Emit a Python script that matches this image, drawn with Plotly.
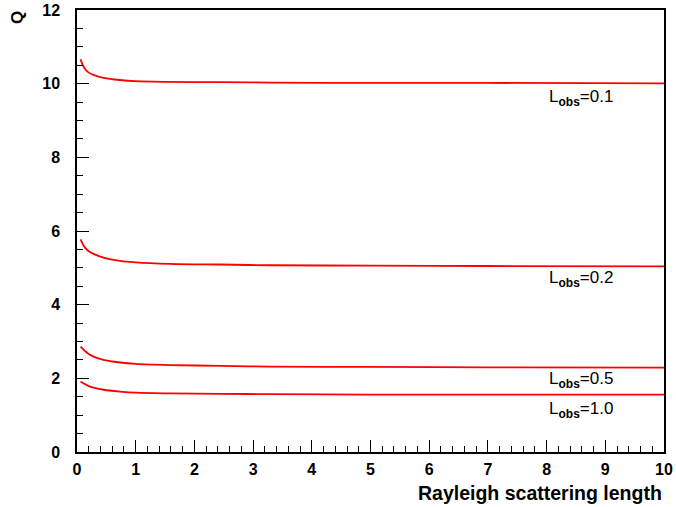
import plotly.graph_objects as go

x_vals = [0.06, 0.10, 0.14, 0.20, 0.28, 0.45, 0.73, 1.0, 1.58, 2.44, 3.29, 5.0, 7.0, 10.0]
q_l01 = [10.66, 10.50, 10.39, 10.30, 10.24, 10.16, 10.10, 10.07, 10.05, 10.04, 10.03, 10.02, 10.02, 10.01]
q_l02 = [5.77, 5.64, 5.54, 5.45, 5.38, 5.28, 5.19, 5.15, 5.11, 5.09, 5.07, 5.06, 5.05, 5.04]
q_l05 = [2.86, 2.80, 2.74, 2.66, 2.59, 2.50, 2.43, 2.39, 2.36, 2.34, 2.32, 2.31, 2.30, 2.29]
q_l10 = [1.91, 1.875, 1.84, 1.79, 1.75, 1.69, 1.64, 1.61, 1.59, 1.58, 1.57, 1.56, 1.56, 1.56]

labels = ["0.1", "0.2", "0.5", "1.0"]
label_y = [9.6, 4.7, 1.95, 1.15]
series = [q_l01, q_l02, q_l05, q_l10]

W, H = 676, 507
ML, MR, MT, MB = 77, 12, 10, 55
PW, PH = W - ML - MR, H - MT - MB

fig = go.Figure()
for s in series:
    fig.add_trace(go.Scatter(x=x_vals, y=s, mode="lines",
                             line=dict(color="red", width=1.8, shape="spline", smoothing=0.8),
                             showlegend=False, hoverinfo="skip"))

for lab, ly in zip(labels, label_y):
    fig.add_annotation(x=8.0, y=ly, xref="x", yref="y", xanchor="left", yanchor="middle",
                       text="L<sub><span style='font-size:12px'><b>obs</b></span></sub>=" + lab,
                       showarrow=False,
                       font=dict(family="Liberation Sans, Arial", size=17, color="black"))

fig.add_annotation(x=(17 - ML) / PW, y=(H - MB - 18) / PH, xref="paper", yref="paper", text="<b>Q</b>",
                   textangle=-90, showarrow=False, xanchor="center", yanchor="middle",
                   font=dict(family="Liberation Sans, Arial", size=17, color="black"))
fig.add_annotation(x=1.0, y=-(493 - (H - MB)) / PH, xref="paper", yref="paper",
                   text="<b>Rayleigh scattering length</b>",
                   showarrow=False, xanchor="right", yanchor="middle",
                   font=dict(family="Liberation Sans, Arial", size=19.5, color="black"))

axis_common = dict(showgrid=False, zeroline=False, showline=True, linecolor="black", linewidth=1.5,
                   mirror=True, ticks="inside", tickcolor="black", ticklen=12, tickwidth=1,
                   automargin=False,
                   tickfont=dict(family="Liberation Sans, Arial", size=16, color="black"))

fig.update_xaxes(range=[0, 10],
                 tickvals=list(range(0, 11)), ticktext=["<b>%d</b>" % i for i in range(0, 11)],
                 minor=dict(dtick=0.2, tick0=0, ticks="inside", ticklen=6, tickcolor="black", tickwidth=1),
                 ticklabelstandoff=2,
                 **axis_common)
fig.update_yaxes(range=[0, 12],
                 tickvals=list(range(0, 13, 2)), ticktext=["<b>%d</b>" % i for i in range(0, 13, 2)],
                 minor=dict(dtick=0.5, tick0=0, ticks="inside", ticklen=6, tickcolor="black", tickwidth=1),
                 ticklabelstandoff=12,
                 **axis_common)

fig.update_layout(width=W, height=H, margin=dict(l=ML, r=MR, t=MT, b=MB, autoexpand=False),
                  plot_bgcolor="white", paper_bgcolor="white")

fig.write_html("out.html", config={"displayModeBar": False},
               post_script="document.body.style.margin='0';document.body.style.overflow='hidden';")
